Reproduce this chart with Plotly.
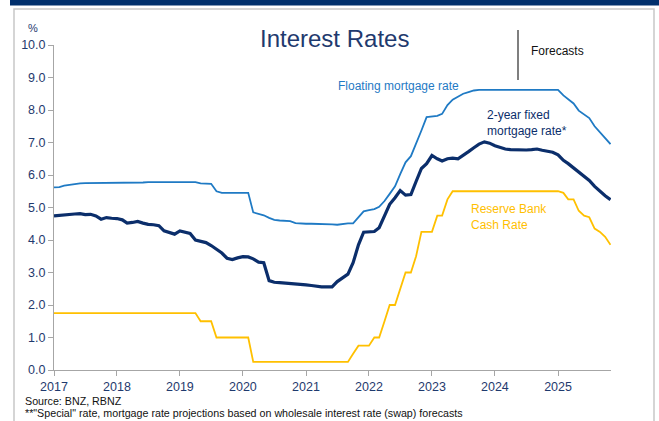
import pandas as pd
import plotly.graph_objects as go

# monthly observations, Jan 2017 .. Nov 2025
months = pd.date_range("2017-01-01", periods=107, freq="MS")

floating = [
    5.62, 5.63, 5.67, 5.70, 5.72, 5.74, 5.75, 5.75, 5.76, 5.76, 5.76, 5.76,
    5.76, 5.76, 5.76, 5.77, 5.77, 5.77, 5.78, 5.78, 5.78, 5.78, 5.78, 5.78,
    5.78, 5.79, 5.79, 5.78, 5.74, 5.73, 5.73, 5.50, 5.45, 5.45, 5.45, 5.45,
    5.45, 5.45, 4.85, 4.80, 4.76, 4.68, 4.62, 4.60, 4.60, 4.58, 4.52, 4.50,
    4.50, 4.50, 4.50, 4.50, 4.50, 4.48, 4.47, 4.50, 4.51, 4.51, 4.70, 4.88,
    4.92, 4.95, 5.02, 5.20, 5.42, 5.65, 6.03, 6.39, 6.58, 6.95, 7.37, 7.78,
    7.80, 7.82, 7.88, 8.15, 8.32, 8.42, 8.50, 8.55, 8.60, 8.62, 8.62, 8.62,
    8.62, 8.62, 8.62, 8.62, 8.62, 8.62, 8.62, 8.62, 8.62, 8.62, 8.62, 8.62,
    8.62, 8.45, 8.34, 8.20, 7.98, 7.85, 7.75, 7.50, 7.32, 7.15, 6.95,
]

fixed_2yr = [
    4.74, 4.76, 4.78, 4.79, 4.80, 4.81, 4.78, 4.79, 4.74, 4.64, 4.69, 4.67,
    4.66, 4.62, 4.52, 4.54, 4.57, 4.52, 4.48, 4.47, 4.44, 4.28, 4.22, 4.18,
    4.28, 4.25, 4.20, 4.00, 3.95, 3.92, 3.83, 3.72, 3.60, 3.44, 3.40, 3.45,
    3.49, 3.48, 3.42, 3.32, 3.30, 2.75, 2.70, 2.69, 2.68, 2.67, 2.66, 2.64,
    2.62, 2.60, 2.57, 2.56, 2.56, 2.56, 2.72, 2.84, 2.95, 3.30, 3.85, 4.24,
    4.26, 4.26, 4.38, 4.75, 5.10, 5.30, 5.52, 5.38, 5.40, 5.80, 6.20, 6.35,
    6.60, 6.50, 6.43, 6.50, 6.52, 6.50, 6.60, 6.72, 6.84, 6.95, 7.02, 6.98,
    6.90, 6.85, 6.80, 6.78, 6.77, 6.77, 6.77, 6.78, 6.80, 6.76, 6.73, 6.70,
    6.62, 6.45, 6.35, 6.22, 6.08, 5.95, 5.83, 5.65, 5.50, 5.36, 5.24,
]

cash_rate = (
    [1.75] * 28 + [1.5] * 3 + [1.0] * 7 + [0.25] * 19
    + [0.5, 0.75, 0.75, 0.75, 1.0, 1.0, 1.5, 2.0, 2.0, 2.5, 3.0, 3.0, 3.5,
       4.25, 4.25, 4.25, 4.75, 4.75, 5.25]
    + [5.5] * 21
    + [5.45, 5.25, 5.25, 4.9, 4.75, 4.7, 4.35, 4.25, 4.1, 3.85]
)

year_ticks = [f"{y}-01-01" for y in range(2017, 2026)]
year_labels = [str(y) for y in range(2017, 2026)]

NAVY = "#0B2E6B"
LIGHT_BLUE = "#1F7AC4"
GOLD = "#FFC000"
TEXT = "#1F3A6E"
FONT = "Liberation Sans, Arial, sans-serif"

# plot area in pixels: x 54..611, y 45..370
def px(x):
    return (x - 54) / 557

def py(y):
    return (370 - y) / 325


fig = go.Figure()

fig.add_trace(go.Scatter(x=months, y=floating, mode="lines",
                         line=dict(color=LIGHT_BLUE, width=1.8), showlegend=False))
fig.add_trace(go.Scatter(x=months, y=fixed_2yr, mode="lines",
                         line=dict(color=NAVY, width=3.2), showlegend=False))
fig.add_trace(go.Scatter(x=months, y=cash_rate, mode="lines",
                         line=dict(color=GOLD, width=1.8), showlegend=False))

# header band and frame
fig.add_shape(type="rect", xref="paper", yref="paper",
              x0=px(10), x1=px(660), y0=py(5.5), y1=py(-2),
              fillcolor="#002F6C", line=dict(width=0), layer="below")
fig.add_shape(type="rect", xref="paper", yref="paper",
              x0=px(14), x1=px(654), y0=py(440), y1=py(9),
              fillcolor="rgba(0,0,0,0)", line=dict(color="#C8C8C8", width=1.5),
              layer="below")
# forecast marker
fig.add_shape(type="line", xref="paper", yref="paper",
              x0=px(518), x1=px(518), y0=py(80), y1=py(30),
              line=dict(color="#555555", width=1.5))

notes = [
    dict(text="Interest Rates", x=334, y=38, size=24, color=TEXT, xanchor="center"),
    dict(text="%", x=26, y=28, size=11, color=TEXT, xanchor="left"),
    dict(text="Forecasts", x=529, y=51, size=12, color="#111111", xanchor="left"),
    dict(text="Floating mortgage rate", x=336, y=86, size=12, color=LIGHT_BLUE, xanchor="left"),
    dict(text="2-year fixed<br>mortgage rate*", x=485, y=123, size=12, color=NAVY, xanchor="left"),
    dict(text="Reserve Bank<br>Cash Rate", x=469, y=217, size=12, color=GOLD, xanchor="left"),
    dict(text="Source: BNZ, RBNZ", x=23, y=401, size=10.7, color="#111111", xanchor="left"),
    dict(text="**\"Special\" rate, mortgage rate projections based on wholesale interest rate (swap) forecasts",
         x=23, y=413, size=10.7, color="#111111", xanchor="left"),
]
for n in notes:
    fig.add_annotation(
        text=n["text"], xref="paper", yref="paper",
        x=px(n["x"]), y=py(n["y"]), xanchor=n["xanchor"], yanchor="middle",
        showarrow=False, align="left",
        font=dict(family=FONT, size=n["size"], color=n["color"]),
    )

fig.update_layout(
    width=659,
    height=421,
    margin=dict(l=54, r=48, t=45, b=51),
    plot_bgcolor="white",
    paper_bgcolor="white",
    font=dict(family=FONT, color=TEXT),
    xaxis=dict(
        type="date",
        range=["2017-01-01", "2025-11-04"],
        tickvals=year_ticks,
        ticktext=year_labels,
        ticks="outside",
        ticklen=5,
        tickcolor="#A6A6A6",
        showline=True,
        linecolor="#A6A6A6",
        linewidth=1,
        showgrid=False,
        zeroline=False,
        tickfont=dict(size=12.5, color=TEXT),
    ),
    yaxis=dict(
        range=[0, 10],
        tickvals=[0, 1, 2, 3, 4, 5, 6, 7, 8, 9, 10],
        tickformat=".1f",
        ticks="outside",
        ticklen=5,
        tickcolor="#A6A6A6",
        showline=True,
        linecolor="#A6A6A6",
        linewidth=1,
        showgrid=False,
        zeroline=False,
        tickfont=dict(size=12.5, color=TEXT),
    ),
)

# drop the browser's default 8px body margin so the figure sits at the page corner
fig.write_html("out.html", config={"displayModeBar": False},
               post_script="document.body.style.margin = '0px';")
